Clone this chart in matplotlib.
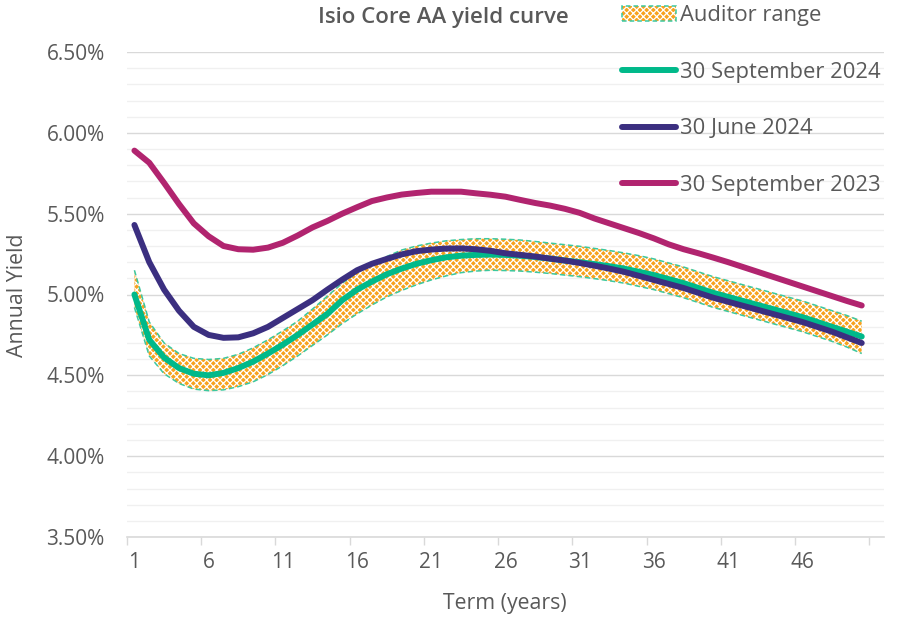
import matplotlib
matplotlib.use("Agg")
import matplotlib.pyplot as plt
from matplotlib.lines import Line2D
from matplotlib.patches import Patch
from matplotlib.legend_handler import HandlerTuple
from matplotlib.ticker import FixedLocator, NullFormatter, MultipleLocator
import numpy as np

plt.rcParams["font.family"] = ["Open Sans", "DejaVu Sans"]
plt.rcParams["hatch.color"] = "white"
plt.rcParams["hatch.linewidth"] = 0.9

TEXT = "#595959"
GRID_MAJOR = "#D9D9D9"
GRID_MINOR = "#F0F0F0"

terms = np.arange(1, 51)

sep_2024 = [
    5.00, 4.72, 4.61, 4.545, 4.51, 4.50, 4.515, 4.545, 4.585, 4.635,
    4.69, 4.75, 4.815, 4.88, 4.965, 5.03, 5.08, 5.125, 5.16, 5.19,
    5.212, 5.23, 5.24, 5.245, 5.247, 5.245, 5.24, 5.232, 5.222, 5.21,
    5.20, 5.188, 5.175, 5.16, 5.14, 5.12, 5.095, 5.07, 5.04, 5.01,
    4.985, 4.96, 4.935, 4.91, 4.885, 4.86, 4.83, 4.80, 4.77, 4.74,
]
jun_2024 = [
    5.43, 5.20, 5.03, 4.90, 4.80, 4.75, 4.732, 4.735, 4.76, 4.80,
    4.855, 4.91, 4.965, 5.03, 5.092, 5.15, 5.19, 5.22, 5.248, 5.268,
    5.278, 5.284, 5.285, 5.28, 5.27, 5.255, 5.245, 5.235, 5.222, 5.21,
    5.195, 5.178, 5.16, 5.14, 5.115, 5.09, 5.065, 5.04, 5.01, 4.98,
    4.955, 4.93, 4.905, 4.88, 4.855, 4.83, 4.80, 4.77, 4.735, 4.70,
]
sep_2023 = [
    5.89, 5.815, 5.69, 5.56, 5.44, 5.36, 5.30, 5.28, 5.277, 5.29,
    5.32, 5.365, 5.415, 5.455, 5.50, 5.54, 5.578, 5.60, 5.618, 5.628,
    5.636, 5.636, 5.636, 5.626, 5.617, 5.605, 5.585, 5.566, 5.55, 5.53,
    5.505, 5.47, 5.44, 5.41, 5.38, 5.347, 5.31, 5.28, 5.255, 5.228,
    5.20, 5.17, 5.14, 5.11, 5.08, 5.05, 5.02, 4.99, 4.96, 4.932,
]
auditor_upper = [
    5.15, 4.83, 4.70, 4.635, 4.605, 4.598, 4.605, 4.63, 4.67, 4.72,
    4.775, 4.835, 4.91, 4.99, 5.07, 5.135, 5.19, 5.235, 5.275, 5.30,
    5.318, 5.332, 5.34, 5.345, 5.345, 5.342, 5.337, 5.328, 5.318, 5.308,
    5.298, 5.285, 5.272, 5.257, 5.24, 5.22, 5.195, 5.17, 5.14, 5.11,
    5.085, 5.06, 5.035, 5.01, 4.985, 4.96, 4.93, 4.90, 4.87, 4.835,
]
auditor_lower = [
    4.92, 4.62, 4.51, 4.45, 4.415, 4.405, 4.41, 4.43, 4.46, 4.505,
    4.56, 4.62, 4.685, 4.75, 4.82, 4.88, 4.935, 4.985, 5.025, 5.06,
    5.09, 5.115, 5.135, 5.145, 5.15, 5.148, 5.145, 5.138, 5.13, 5.12,
    5.11, 5.098, 5.085, 5.07, 5.05, 5.03, 5.005, 4.98, 4.95, 4.92,
    4.895, 4.87, 4.845, 4.82, 4.795, 4.77, 4.74, 4.71, 4.675, 4.635,
]
tick_terms = [1, 6, 11, 16, 21, 26, 31, 36, 41, 46]

series = [
    ("30 September 2024", sep_2024, "#00B98A"),
    ("30 June 2024", jun_2024, "#3B2F80"),
    ("30 September 2023", sep_2023, "#B1246F"),
]
band_face = "#F7A21E"
band_edge = "#3CC8A0"

fig = plt.figure(figsize=(9.03, 6.17), dpi=100)
ax = fig.add_axes([127 / 903, 1 - 537 / 617, (884 - 127) / 903, (537 - 52) / 617])

ax.fill_between(terms, auditor_lower, auditor_upper, facecolor=band_face,
                hatch="xxxxx", linewidth=0, zorder=2)
for bound in (auditor_upper, auditor_lower):
    ax.plot(terms, bound, color=band_edge, lw=1.1, ls=(0, (3.5, 2)), zorder=3)

for label, values, color in series:
    ax.plot(terms, values, color=color, lw=4.3, solid_capstyle="round",
            solid_joinstyle="round", zorder=4)

ax.set_xlim(0.5, 51.5)
ax.set_ylim(3.5, 6.5)

ax.yaxis.set_major_locator(MultipleLocator(0.5))
ax.yaxis.set_minor_locator(MultipleLocator(0.1))
ax.set_yticklabels([f"{v:.2f}%" for v in ax.get_yticks()])
ax.yaxis.grid(True, which="major", color=GRID_MAJOR, lw=1.0, zorder=0)
ax.yaxis.grid(True, which="minor", color=GRID_MINOR, lw=1.0, zorder=0)
ax.set_axisbelow(True)
ax.tick_params(axis="y", which="both", length=0, pad=16, labelsize=15, labelcolor=TEXT)

ax.xaxis.set_major_locator(FixedLocator(np.arange(0.5, 51, 5)))
ax.xaxis.set_major_formatter(NullFormatter())
ax.xaxis.set_minor_locator(FixedLocator(tick_terms))
ax.set_xticklabels([str(t) for t in tick_terms], minor=True)
ax.tick_params(axis="x", which="major", length=6, width=1.0, color=GRID_MAJOR)
ax.tick_params(axis="x", which="minor", length=0, pad=11, labelsize=15, labelcolor=TEXT)

for side in ("left", "right", "top"):
    ax.spines[side].set_visible(False)
ax.spines["bottom"].set_color(GRID_MAJOR)
ax.spines["bottom"].set_linewidth(1.2)

fig.text(443 / 903, 1 - 17 / 617, "Isio Core AA yield curve", ha="center", va="center",
         fontsize=16, fontweight="semibold", color=TEXT)
fig.text(18 / 903, 1 - 295 / 617, "Annual Yield", rotation=90, ha="center", va="center",
         fontsize=15.3, color=TEXT)
fig.text(505 / 903, 1 - 603 / 617, "Term (years)", ha="center", va="center",
         fontsize=15.3, color=TEXT)

band_handle = (
    Patch(facecolor=band_face, hatch="xxxxx", linewidth=0),
    Patch(fill=False, edgecolor=band_edge, linestyle=(0, (3, 2)), linewidth=1.1),
)
handles = [band_handle] + [
    Line2D([], [], color=c, lw=4.3, solid_capstyle="round") for _, _, c in series
]
labels = ["Auditor range"] + [s[0] for s in series]
fig.legend(handles, labels, handler_map={tuple: HandlerTuple(ndivide=1)},
           loc="upper left", bbox_to_anchor=(622 / 903, 1 - 5 / 617),
           frameon=False, fontsize=15.8, labelcolor=TEXT, handlelength=2.45,
           handleheight=0.65, handletextpad=0.2, labelspacing=1.62,
           borderpad=0, borderaxespad=0)

fig.savefig("out.png", dpi=100)
